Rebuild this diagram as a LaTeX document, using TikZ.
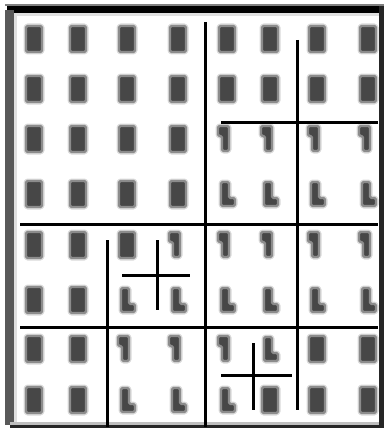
\documentclass[tikz,border=0pt]{standalone}
\usepackage{tikz}
\usetikzlibrary{positioning}

\tikzset{
  glyph/.style={fill=black!72, draw=black!45, line width=2.4pt, line join=round,
    rounded corners=1.5pt, preaction={draw=black!15, line width=5pt, line join=round}},
  cut/.style={line width=3pt},
  ob/.pic={\path[glyph] (-8,-13) rectangle (8,13);},
  el/.pic={\path[glyph] (-6,-12) -- (2,-12) -- (2,4) -- (8,4) -- (8,12) -- (-6,12) -- cycle;},
  hk/.pic={\path[glyph] (-9,-13) -- (2,-13) -- (2,12) -- (-5,12) -- (-5,-3) -- (-9,-3) -- cycle;}
}

\begin{document}
\begin{tikzpicture}[x=1pt,y=-1pt]
  \useasboundingbox (0,0) rectangle (384,428);
  % frame
  \fill[black!50] (5,4) rectangle (384,6);
  \fill[black] (7,6) rectangle (384,13);
  \fill[black!65] (5,10) rectangle (14,425);
  \fill[black!12] (14,13) rectangle (379,16);
  \fill[black!12] (14,13) rectangle (17,422);
  \fill[black!25] (10,422) rectangle (379,425);
  \fill[black!85] (379,6) rectangle (384,428);
  \fill[black!85] (10,425) rectangle (384,428);
  % glyphs
  \foreach [count=\r] \row in {
      {ob,ob,ob,ob,ob,ob,ob,ob},
      {ob,ob,ob,ob,ob,ob,ob,ob},
      {ob,ob,ob,ob,hk,hk,hk,hk},
      {ob,ob,ob,ob,el,el,el,el},
      {ob,ob,ob,hk,hk,hk,hk,hk},
      {ob,ob,el,el,el,el,el,el},
      {ob,ob,hk,hk,hk,el,ob,ob},
      {ob,ob,el,el,el,ob,ob,ob}}
    \foreach [count=\c] \g in \row {
      \pgfmathsetmacro\gx{{34,78,127,178,227,270,317,368}[\c-1]}
      \pgfmathsetmacro\gy{{39,89,139,194,245,300,349,400}[\r-1]}
      \pic at (\gx,\gy) {\g};
    }
  % partition lines
  \draw[cut] (205,22) -- (205,427);
  \draw[cut] (20,224) -- (378,224);
  \draw[cut] (297,40) -- (297,410);
  \draw[cut] (221,122) -- (378,122);
  \draw[cut] (107,240) -- (107,427);
  \draw[cut] (20,327) -- (378,327);
  \draw[cut] (157,240) -- (157,310);
  \draw[cut] (122,275) -- (190,275);
  \draw[cut] (253,343) -- (253,410);
  \draw[cut] (221,375) -- (292,375);
\end{tikzpicture}
\end{document}
